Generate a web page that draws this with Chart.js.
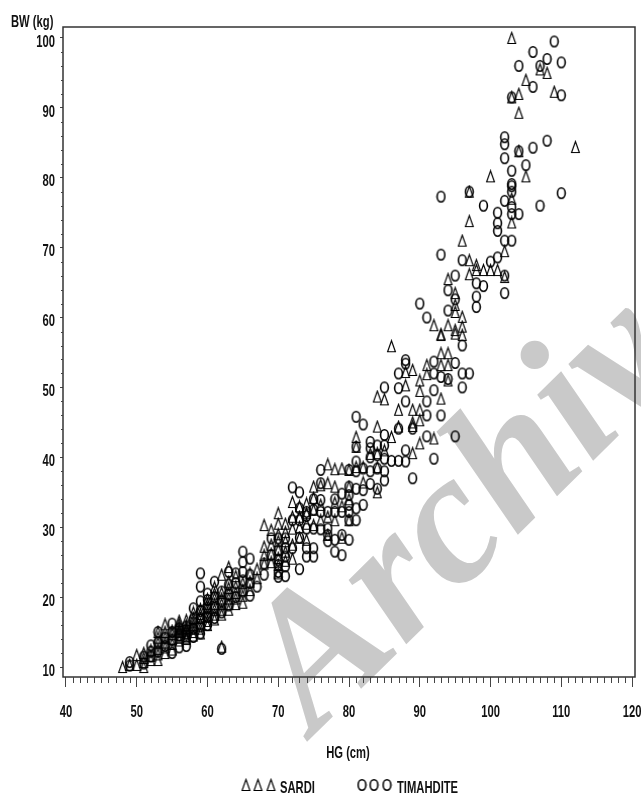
<!DOCTYPE html>
<html>
<head>
<meta charset="utf-8">
<title>BW vs HG</title>
<script src="https://cdn.jsdelivr.net/npm/chart.js@4"></script>
<style>
  html, body { margin: 0; padding: 0; background: #fff; overflow: hidden; }
  #wrap { position: relative; width: 641px; height: 794px; }
</style>
</head>
<body>
<div id="wrap"><canvas id="grafico"></canvas></div>
<script>
// Valores: [HG, BW]
const sardiPoints = [
  [48,10],[49,10.3],[50,10.3],[50,11.7],[51,10],[51,10.7],[51,11.3],[51,12],[52,11],[52,11.6],[52,12.4],
  [53,11],[53,11.8],[53,12.6],[53,13.4],[53,14.2],[53,15],[54,12],[54,12.8],[54,13.5],[54,14.2],[54,15],[54,16.1],
  [55,12.5],[55,13.3],[55,14],[55,14.7],[55,15.2],[56,13.8],[56,14.2],[56,14.6],[56,15],[56,15.2],[56,15.4],[56,15.8],[56,16.2],[56,16.6],
  [57,14],[57,14.2],[57,14.4],[57,14.8],[57,15.2],[57,15.4],[57,15.6],[57,16],[57,16.7],[58,14.5],[58,15],[58,15.5],[58,16],[58,16.5],[58,17],[58,17.8],
  [59,14.8],[59,15.5],[59,16.2],[59,17],[59,17.6],[59,18.3],[60,16],[60,16.6],[60,17.2],[60,17.8],[60,18.4],[60,19],[60,19.7],
  [61,16.8],[61,17.5],[61,18.2],[61,19],[61,19.8],[61,20.5],[61,21.4],[62,12.9],[62,17.5],[62,18.2],[62,19],[62,19.8],[62,20.6],[62,23.2],
  [63,18.2],[63,19],[63,19.8],[63,20.5],[63,21.3],[63,22.2],[63,24.3],[64,19],[64,19.8],[64,20.6],[64,21.5],[64,23],
  [65,19.2],[65,20.2],[65,21],[65,22],[66,21],[66,22.2],[66,23.4],[67,22.7],[67,24],[68,24.8],[68,26],[68,27.2],[68,30.3],
  [69,25],[69,26.2],[69,27.5],[69,29.6],[70,23.4],[70,24.6],[70,25.6],[70,26.8],[70,28],[70,29],[70,30.5],[70,32],
  [71,25.2],[71,26.5],[71,28],[71,29.3],[71,30.5],[72,25.5],[72,27.5],[72,29.8],[72,31.5],[72,33.6],[73,28.5],[73,30],[73,31.5],[73,33],
  [74,28.2],[74,30.5],[74,32],[74,33.4],[75,30.3],[75,32.5],[75,34.2],[75,35.8],[76,31],[76,33.2],[76,36],[77,28.9],[77,31.5],[77,36.3],[77,39],
  [78,31],[78,33.5],[78,35.8],[78,38.3],[79,38.4],[79,33],[79,28.5],[80,38.2],[80,35.8],[80,34],[80,31],[81,38.6],[81,41.5],[81,42.9],
  [82,38.6],[82,36.4],[83,40.5],[84,35],[84,38.6],[84,40.6],[84,44.4],[84,48.7],[85,48.3],[85,41],[86,42.9],[86,55.9],
  [87,44.4],[87,46.8],[88,50.3],[88,52.2],[89,40.6],[89,44.5],[89,45],[89,46.8],[89,52.5],[90,42],[90,45.3],[90,46.8],[90,49.5],[90,51],
  [91,51.9],[91,53.2],[92,42.7],[93,48.4],[93,53.2],[93,54.9],[93,57.5],[94,51],[94,53.2],[94,54.9],[94,58.9],[94,65.5],[92,58.9],[93,57.6],
  [95,57.7],[95,58.2],[95,60.8],[95,61.8],[95,63.5],[96,57.5],[96,58.7],[96,60.1],[96,71],[97,66.2],[97,68.2],[97,73.8],[97,78],
  [98,66.8],[98,67.5],[99,66.8],[100,66.8],[100,80.2],[101,66.8],[102,65.8],[102,69.5],[103,73.6],[103,77],[103,91.5],[103,100],
  [104,83.8],[104,89.3],[104,92],[105,80.2],[105,94],[107,95.5],[108,95],[109,92.3],[112,84.4]
];
const timahditePoints = [
  [49,10.2],[49,10.7],[51,10.5],[51,11.5],[52,11.5],[52,12.2],[52,13.1],[53,12.2],[53,13.5],[53,15],[54,13],[54,14.2],
  [55,12],[55,13.9],[55,15],[55,16.2],[56,12.8],[56,14.5],[56,15.5],[57,13],[57,14.8],[57,15.8],[58,14.3],[58,15.5],[58,16.8],[58,18.4],
  [59,14.8],[59,15.8],[59,17],[59,18],[59,19.4],[59,21.5],[59,23.4],[60,16],[60,17.2],[60,18.5],[60,19.6],[60,20.5],
  [61,17],[61,18.5],[61,20],[61,22.2],[62,12.6],[62,17.8],[62,19.4],[62,20.8],[63,18.8],[63,20.4],[63,21.8],[63,23.6],
  [64,20],[64,22],[64,23.4],[65,20.8],[65,22.4],[65,23.6],[65,25],[65,26.5],[66,20.2],[66,22],[66,23.2],[66,25.5],
  [67,21.5],[68,23.2],[68,24.8],[69,26],[69,28.4],[70,22.9],[70,23.6],[70,24.6],[70,25.3],[70,26.7],[70,28.4],
  [71,23],[71,24.4],[71,25.8],[71,27],[71,28.4],[72,27],[72,31],[72,35.7],[73,24],[73,28.5],[73,31],[73,32.7],[73,35],
  [74,25.8],[74,27],[74,29.8],[74,31.6],[74,32.2],[75,25.8],[75,27],[75,29.8],[75,32.5],[75,34],[76,29.7],[76,32.2],[76,33.9],[76,36.3],[76,38.2],
  [77,28],[77,28.9],[77,29.8],[77,32.2],[78,26.5],[78,28.2],[78,32.2],[78,34],[79,26],[79,28.9],[79,32.2],[79,34.8],
  [80,28.2],[80,31],[80,32.2],[80,33.2],[80,34.6],[80,35.8],[80,38.2],[81,31],[81,32.7],[81,35.5],[81,38],[81,39.4],[81,41.5],[81,45.8],
  [82,33.2],[82,35.3],[82,38.4],[82,44.7],[83,36.2],[83,38],[83,40],[83,41.3],[83,42.2],[84,35.5],[84,38.4],[84,40.3],[84,41.7],
  [85,36.7],[85,38],[85,39.8],[85,41.7],[85,43.2],[85,50],[86,39.5],[87,39.5],[87,44.1],[87,49.9],[87,52],
  [88,39.4],[88,41],[88,48],[88,53.4],[88,53.9],[89,37],[89,44.1],[91,43],[91,46],[91,48],[92,39.8],[92,49.6],[92,52],[92,53.7],
  [93,46],[93,51.5],[93,69],[93,77.3],[94,51.2],[94,61],[94,63.9],[95,43],[95,53.5],[95,62.6],[95,66],
  [90,62],[91,60],[96,50],[96,52],[96,56],[96,68.2],[97,52],[97,78],
  [98,61.5],[98,63],[98,64.9],[99,64.5],[99,76],[100,68],[101,68.6],[101,72.4],[101,73.5],[101,75],[102,63.5],[102,66],[102,71],[102,76.7],[102,82.8],[102,84.8],[102,85.8],
  [103,71],[103,74.8],[103,75.8],[103,78],[103,78.8],[103,79.1],[103,81],[103,91.5],[104,74.8],[104,83.8],[104,96],
  [105,81.8],[106,84.3],[106,93],[106,98],[107,76],[107,96],[108,85.3],[108,97],[109,99.5],[110,77.8],[110,91.8],[110,96.5]
];
const xTicks = [40, 50, 60, 70, 80, 90, 100, 110, 120];
const yTicks = [10, 20, 30, 40, 50, 60, 70, 80, 90, 100];

const colorTinta = "#111";

// Marcadores: el original usa triangulos altos y ovalos estrechos
function hacerMarcador(tipo) {
  const c = document.createElement("canvas");
  c.width = 11;
  c.height = 14;
  const g = c.getContext("2d");
  g.strokeStyle = "#000";
  g.beginPath();
  if (tipo === "tri") {
    g.lineWidth = 1.15;
    g.moveTo(5.5, 1.5);
    g.lineTo(9.4, 12.5);
    g.lineTo(1.6, 12.5);
    g.closePath();
  } else {
    g.lineWidth = 1.6;
    g.ellipse(5.5, 7, 3.9, 5.2, 0, 0, Math.PI * 2);
  }
  g.stroke();
  return c;
}
const marcaTri = hacerMarcador("tri");
const marcaOval = hacerMarcador("oval");

const aPuntos = arr => arr.map(p => ({ x: p[0], y: p[1] }));

// Texto estrecho: la fuente del original es de mapa de bits, alta y condensada
function texto(ctx, str, x, y, align) {
  ctx.save();
  ctx.translate(x, y);
  ctx.scale(0.66, 1);
  ctx.font = 'bold 17px "Liberation Sans", sans-serif';
  ctx.fillStyle = colorTinta;
  ctx.textAlign = align;
  ctx.textBaseline = "middle";
  ctx.fillText(str, 0, 0);
  ctx.restore();
}

// Marca de agua, detras de todo
const marcaAgua = {
  id: "marcaAgua",
  beforeDraw(chart) {
    const ctx = chart.ctx;
    ctx.save();
    ctx.translate(314, 735);
    ctx.rotate(-44.5 * Math.PI / 180);
    ctx.font = 'italic bold 188px "Liberation Serif", serif';
    ctx.fillStyle = "#c9c9c9";
    ctx.textBaseline = "alphabetic";
    ctx.fillText("Archiv", 0, 0);
    ctx.restore();
  }
};

// Marco, marcas menores, rotulos y leyenda
const marco = {
  id: "marco",
  afterDraw(chart) {
    const ctx = chart.ctx;
    const a = chart.chartArea;
    const sx = chart.scales.x;
    const sy = chart.scales.y;
    ctx.save();
    ctx.strokeStyle = "#333";
    ctx.lineWidth = 1.5;
    ctx.strokeRect(a.left, a.top, a.right - a.left, a.bottom - a.top);
    ctx.lineWidth = 1;
    ctx.strokeStyle = "#444";
    ctx.beginPath();
    for (let v = 40; v <= 120; v++) {
      if (v % 10 === 0) continue;
      const px = Math.round(sx.getPixelForValue(v)) + 0.5;
      ctx.moveTo(px, a.bottom);
      ctx.lineTo(px, a.bottom + 6);
    }
    for (let v = 10; v <= 100; v += 2) {
      if (v % 10 === 0) continue;
      const py = Math.round(sy.getPixelForValue(v)) + 0.5;
      ctx.moveTo(a.left, py);
      ctx.lineTo(a.left - 2, py);
    }
    ctx.stroke();
    ctx.restore();

    xTicks.forEach(v => texto(ctx, String(v), sx.getPixelForValue(v), 712, "center"));
    yTicks.forEach(v => texto(ctx, String(v), 55, sy.getPixelForValue(v) + 4, "right"));
    texto(ctx, "BW (kg)", 11, 22, "left");
    texto(ctx, "HG (cm)", 348, 753, "center");

    [246, 258, 271].forEach(x => ctx.drawImage(marcaTri, x - 5.5, 778));
    texto(ctx, "SARDI", 280, 788, "left");
    [362, 374, 387].forEach(x => ctx.drawImage(marcaOval, x - 5.5, 778));
    texto(ctx, "TIMAHDITE", 397, 788, "left");
  }
};

const grafico = new Chart(document.getElementById("grafico"), {
  type: "scatter",
  data: {
    datasets: [
      { label: "SARDI", data: aPuntos(sardiPoints), pointStyle: marcaTri },
      { label: "TIMAHDITE", data: aPuntos(timahditePoints), pointStyle: marcaOval }
    ]
  },
  options: {
    responsive: true,
    maintainAspectRatio: false,
    animation: false,
    layout: { padding: { left: 0, right: 6, top: 27, bottom: 0 } },
    plugins: {
      tooltip: { enabled: false },
      legend: { display: false }
    },
    scales: {
      x: {
        type: "linear",
        min: 39.58,
        max: 120.42,
        afterBuildTicks: s => { s.ticks = xTicks.map(v => ({ value: v })); },
        afterFit: s => { s.height = 117; s.paddingLeft = 0; s.paddingRight = 0; },
        grid: { drawOnChartArea: false, tickLength: 10, tickColor: "#444", tickWidth: 1 },
        border: { display: false },
        ticks: { display: false }
      },
      y: {
        type: "linear",
        min: 8.57,
        max: 101.57,
        afterBuildTicks: s => { s.ticks = yTicks.map(v => ({ value: v })); },
        afterFit: s => { s.width = 63; s.paddingTop = 0; s.paddingBottom = 0; },
        grid: { drawOnChartArea: false, tickLength: 3, tickColor: "#444", tickWidth: 1 },
        border: { display: false },
        ticks: { display: false }
      }
    }
  },
  plugins: [marcaAgua, marco]
});
</script>
</body>
</html>
